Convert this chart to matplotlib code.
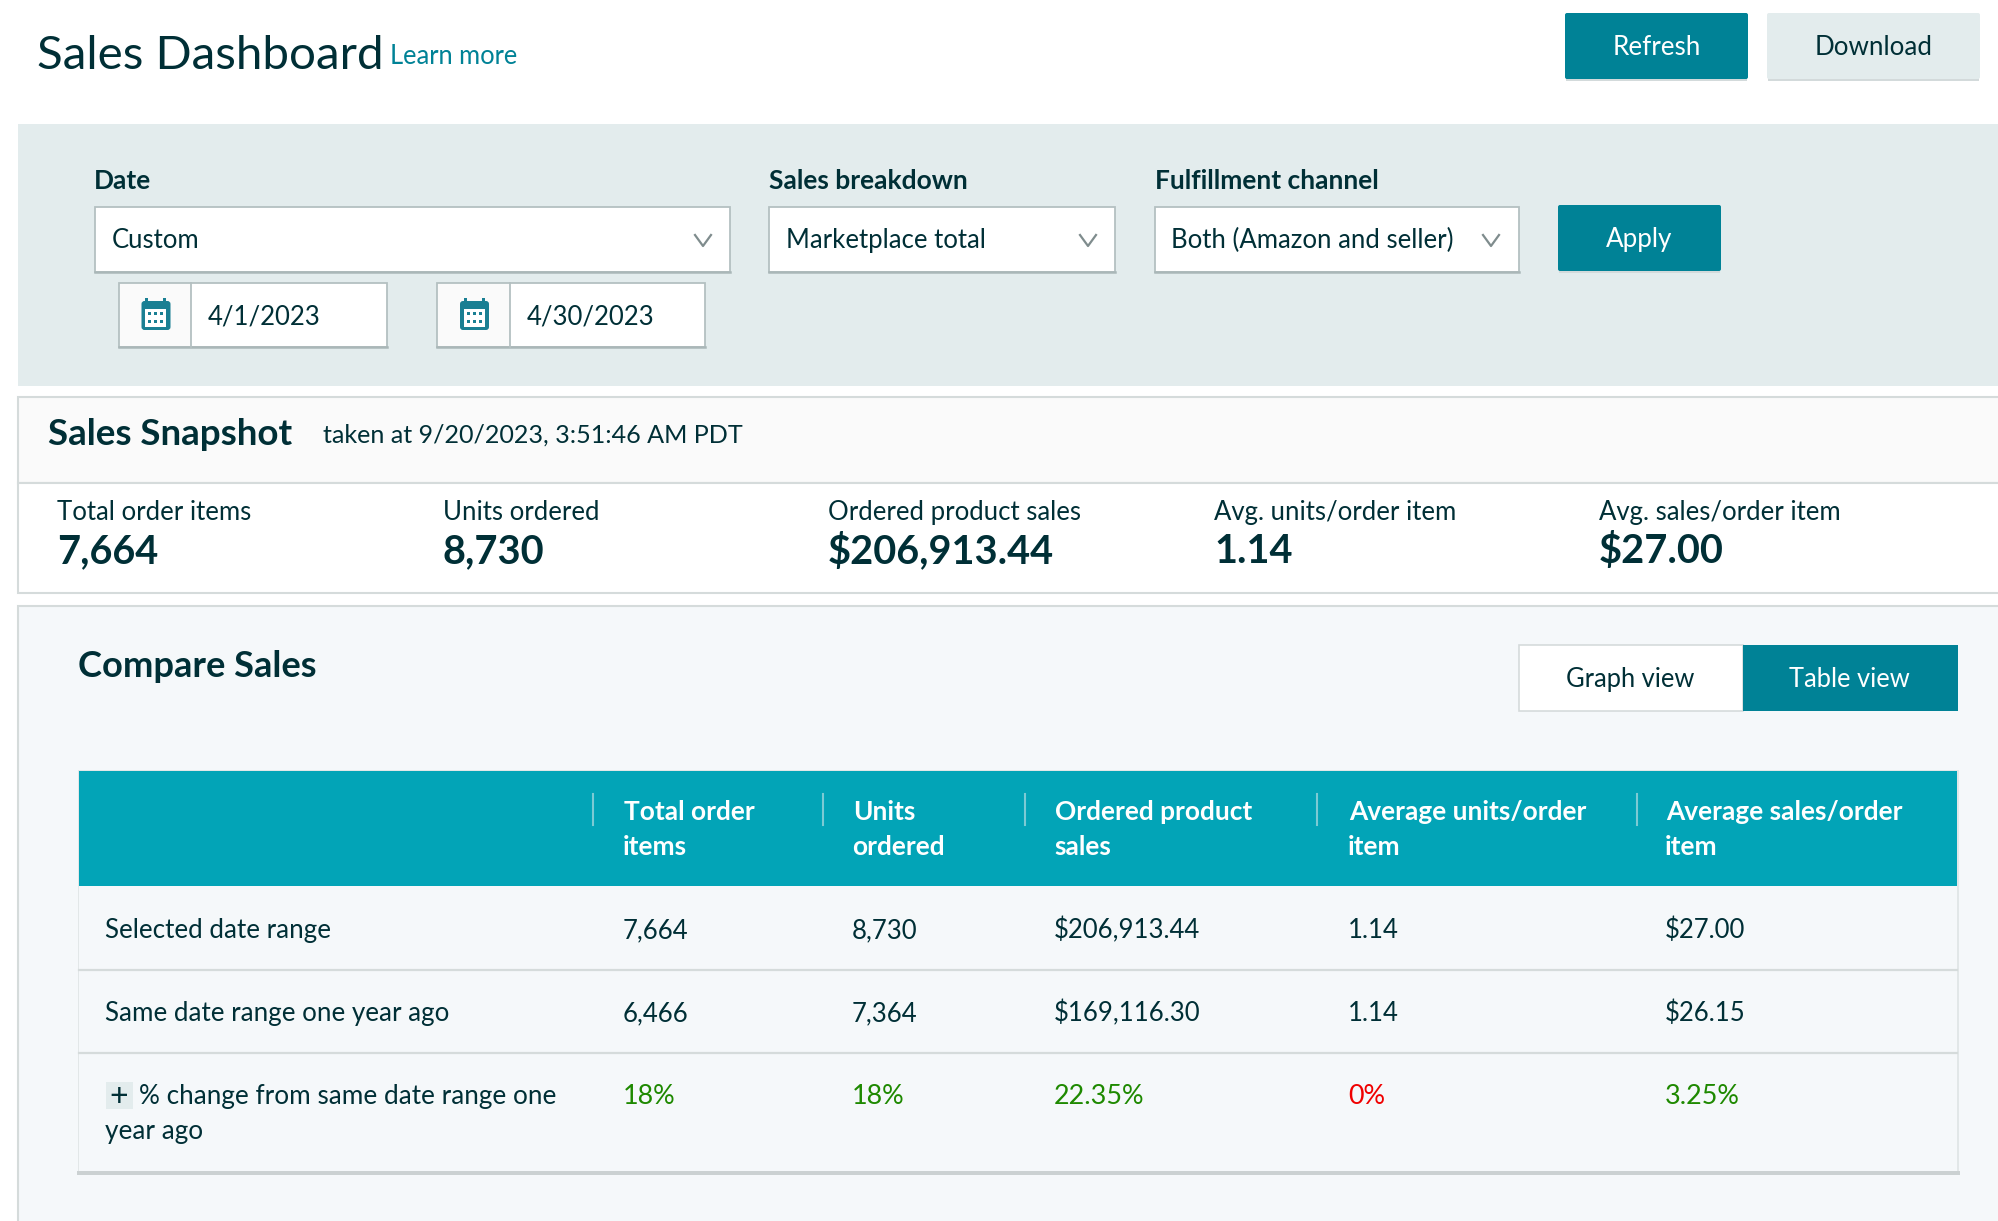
import matplotlib
matplotlib.use("Agg")
import matplotlib.pyplot as plt
from matplotlib.patches import Rectangle, FancyBboxPatch

plt.rcParams["font.family"] = ["Lato", "DejaVu Sans"]

# -------------------------------
# Data
# -------------------------------

snapshot_labels = ["Total order items", "Units ordered", "Ordered product sales",
                   "Avg. units/order item", "Avg. sales/order item"]
snapshot_values = ["7,664", "8,730", "$206,913.44", "1.14", "$27.00"]

filter_labels = ["Date", "Sales breakdown", "Fulfillment channel"]
filter_values = ["Custom", "Marketplace total", "Both (Amazon and seller)"]
date_values = ["4/1/2023", "4/30/2023"]

table_headers = [["Total order", "items"], ["Units", "ordered"], ["Ordered product", "sales"],
                 ["Average units/order", "item"], ["Average sales/order", "item"]]
row_labels = ["Selected date range", "Same date range one year ago"]
selected_range = ["7,664", "8,730", "$206,913.44", "1.14", "$27.00"]
year_ago_range = ["6,466", "7,364", "$169,116.30", "1.14", "$26.15"]
pct_change = ["18%", "18%", "22.35%", "0%", "3.25%"]
pct_colors = ["#1E8900", "#1E8900", "#1E8900", "#F00000", "#1E8900"]

# -------------------------------
# Colours
# -------------------------------

TEAL = "#008296"
HEADER = "#02A4B7"
PANEL = "#E3ECED"
PAGE = "#F5F8FA"
INK = "#002F36"
LINE = "#D5DBDB"
BOX = "#B4C0C1"

# -------------------------------
# Canvas in pixel coordinates
# -------------------------------

fig = plt.figure(figsize=(19.99, 12.21), dpi=100)
ax = fig.add_axes([0, 0, 1, 1])
ax.set_xlim(0, 1999)
ax.set_ylim(1221, 0)
ax.axis("off")


def rect(x0, y0, x1, y1, face="none", edge="none", lw=0, z=1):
    ax.add_patch(Rectangle((x0, y0), x1 - x0, y1 - y0, facecolor=face,
                           edgecolor=edge, linewidth=lw, zorder=z))


def label(x, y, s, size=26, color=INK, weight="normal", ha="left"):
    # y is the middle of the letters, baseline keeps digits and text in line
    ax.text(x, y + size * 0.33, s, fontsize=size * 0.72, color=color, fontweight=weight,
            ha=ha, va="baseline", zorder=5)


def button(x0, y0, x1, y1, s, face, color):
    rect(x0 + 1, y0 + 3, x1 - 1, y1 + 2, face="#D3DADB", z=2)
    ax.add_patch(FancyBboxPatch((x0 + 2, y0 + 2), x1 - x0 - 4, y1 - y0 - 4,
                                boxstyle="round,pad=2,rounding_size=2",
                                facecolor=face, edgecolor="none", zorder=3))
    label((x0 + x1) / 2, (y0 + y1) / 2, s, color=color, ha="center")


def chevron(x, y):
    ax.plot([x - 8, x, x + 8], [y - 6, y + 5, y - 6], color="#7F8C8D", lw=1.6, zorder=5)


def select_box(x0, x1, s, text_x, chev_x):
    rect(x0, 207, x1, 272, face="white", edge=BOX, lw=1.3, z=2)
    ax.plot([x0, x1], [272, 272], color="#AAB7B8", lw=1.8, zorder=3)
    label(text_x, 240, s, size=25.7)
    chevron(chev_x, 241)


def date_box(x0, xdiv, x1, s):
    rect(x0, 283, x1, 347, face="white", edge=BOX, lw=1.3, z=2)
    ax.plot([x0, x1], [347, 347], color="#AAB7B8", lw=1.8, zorder=3)
    rect(x0 + 1, 284, xdiv, 346, face="#FAFAFA", z=2)
    ax.plot([xdiv, xdiv], [283, 347], color=BOX, lw=1.3, zorder=3)
    # calendar icon
    cx = (x0 + xdiv) / 2 + 0.5
    ax.add_patch(FancyBboxPatch((cx - 13, 302), 27, 27, boxstyle="round,pad=1,rounding_size=3",
                                facecolor="#1A7F93", edgecolor="none", zorder=4))
    rect(cx - 10, 298, cx - 7, 304, face="#1A7F93", z=4)
    rect(cx + 8, 298, cx + 11, 304, face="#1A7F93", z=4)
    rect(cx - 10, 309, cx + 11, 327, face="white", z=4)
    for dy in (312, 320):
        for dx in (-7, -1, 5):
            rect(cx + dx, dy, cx + dx + 3, dy + 3, face="#1A7F93", z=5)
    label(xdiv + 17, 316, s, size=25.7)


rect(0, 0, 1999, 1221, face="white", z=0)

# top bar
label(37, 53, "Sales Dashboard", size=47.5)
label(390, 56, "Learn more", size=25.5, color=TEAL)
button(1565, 13, 1748, 79, "Refresh", TEAL, "white")
button(1767, 13, 1980, 79, "Download", PANEL, INK)

# filters
rect(18, 124, 1999, 386, face=PANEL)
for x, s in zip([94, 769, 1155], filter_labels):
    label(x, 180, s, weight="bold", size=26.4)
select_box(95, 730, filter_values[0], 112, 703)
select_box(769, 1115, filter_values[1], 786, 1088)
select_box(1155, 1519, filter_values[2], 1171, 1491)
date_box(119, 191, 387, date_values[0])
date_box(437, 510, 705, date_values[1])
button(1558, 205, 1721, 271, "Apply", TEAL, "white")

# snapshot
rect(18, 397, 2010, 483, face="#FAFAFA", edge=LINE, lw=1.5)
rect(18, 483, 2010, 593, face="white", edge=LINE, lw=1.5)
label(48, 433, "Sales Snapshot", size=36.8, weight="bold")
label(323, 434, "taken at 9/20/2023, 3:51:46 AM PDT", size=25.1)
for x, name, val in zip([57, 443, 828, 1214, 1599], snapshot_labels, snapshot_values):
    label(x, 512, name, size=25.7)
    label(x, 550, val, size=39.8, weight="bold")

# compare sales
rect(18, 606, 2010, 1230, face=PAGE, edge=LINE, lw=1.5)
label(78, 665, "Compare Sales", size=36.3, weight="bold")
rect(1519, 645, 1743, 711, face="white", edge=LINE, lw=1.2, z=2)
label(1630, 679, "Graph view", color=INK, ha="center", size=25.5)
rect(1743, 645, 1958, 711, face=TEAL, z=2)
label(1849, 679, "Table view", color="white", ha="center", size=25.5)

# table
rect(78, 770, 1959, 1172, face="#E2E7E8", z=1)
rect(77, 1171, 1960, 1175, face="#CBD1D2", z=1)
rect(79, 771, 1957, 1171, face=PAGE, z=2)
rect(79, 771, 1957, 886, face=HEADER, z=3)
col_x = [623, 852, 1054, 1348, 1665]
sep_x = [593, 823, 1025, 1317, 1637]
for x, sep, lines in zip(col_x, sep_x, table_headers):
    ax.plot([sep, sep], [794, 825], color="#7CCAD4", lw=1.5, zorder=4)
    label(x + 1, 811.5, lines[0], weight="bold", color="white", size=26.2)
    label(x, 846.5, lines[1], weight="bold", color="white", size=26.2)
for y in (970, 1053):
    ax.plot([79, 1957], [y, y], color=LINE, lw=1.6, zorder=4)

label(105, 929, row_labels[0], size=26)
label(105, 1012, row_labels[1], size=26)
rect(106, 1082, 133, 1109, face=PANEL, z=3)
label(118.5, 1095, "+", size=32, ha="center")
label(139, 1095, "% change from same date range one", size=26.1)
label(105, 1130, "year ago", size=26.1)
for x, a, b, c, col in zip(col_x, selected_range, year_ago_range, pct_change, pct_colors):
    label(x, 930, a, size=25.7)
    label(x, 1013, b, size=25.7)
    label(x, 1095.5, c, size=27, color=col)

fig.savefig("out.png", dpi=100)
